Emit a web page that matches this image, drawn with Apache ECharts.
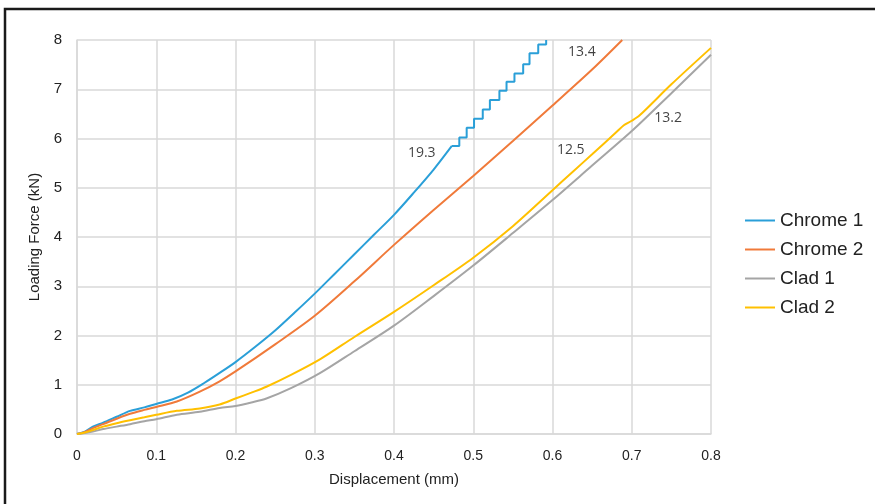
<!DOCTYPE html>
<html>
<head>
<meta charset="utf-8">
<script src="https://cdn.jsdelivr.net/npm/echarts@6/dist/echarts.min.js"></script>
<style>
  html, body { margin: 0; padding: 0; background: #fff; }
  #chart { width: 875px; height: 504px; }
</style>
</head>
<body>
<div id="chart"></div>
<script>
// Chrome 1 smooth part, then the stepped part near the top
const chrome1X = [0, 0.01, 0.02, 0.033, 0.05, 0.067, 0.085, 0.1, 0.12, 0.14, 0.16, 0.18, 0.2, 0.225, 0.25, 0.275, 0.3, 0.325, 0.35, 0.375, 0.4, 0.425, 0.45, 0.473]
const chrome1Y = [0, 0.05, 0.15, 0.23, 0.35, 0.47, 0.54, 0.61, 0.7, 0.84, 1.03, 1.24, 1.46, 1.77, 2.1, 2.47, 2.85, 3.25, 3.65, 4.05, 4.45, 4.9, 5.37, 5.85]
const stepRisers = [0.4824, 0.4917, 0.501, 0.512, 0.521, 0.533, 0.542, 0.552, 0.563, 0.571, 0.582, 0.592]
const stepLevels = [5.85, 6.02, 6.22, 6.40, 6.59, 6.78, 6.97, 7.15, 7.32, 7.51, 7.73, 7.91, 8.0]

const chrome2X = [0, 0.01, 0.02, 0.033, 0.05, 0.067, 0.085, 0.1, 0.126, 0.155, 0.18, 0.2, 0.25, 0.3, 0.35, 0.4, 0.45, 0.5, 0.55, 0.6, 0.65, 0.688]
const chrome2Y = [0, 0.04, 0.12, 0.2, 0.31, 0.41, 0.49, 0.55, 0.66, 0.86, 1.07, 1.27, 1.82, 2.4, 3.1, 3.84, 4.55, 5.24, 5.95, 6.67, 7.4, 8.0]

const clad1X = [0, 0.01, 0.02, 0.033, 0.05, 0.067, 0.085, 0.1, 0.126, 0.155, 0.18, 0.2, 0.22, 0.239, 0.27, 0.307, 0.35, 0.4, 0.45, 0.5, 0.55, 0.6, 0.65, 0.7, 0.75, 0.8]
const clad1Y = [0, 0.02, 0.05, 0.1, 0.15, 0.2, 0.26, 0.3, 0.39, 0.45, 0.53, 0.57, 0.64, 0.72, 0.93, 1.24, 1.68, 2.2, 2.8, 3.42, 4.08, 4.75, 5.45, 6.15, 6.92, 7.7]

const clad2X = [0, 0.01, 0.02, 0.033, 0.05, 0.067, 0.085, 0.1, 0.126, 0.155, 0.18, 0.2, 0.22, 0.239, 0.27, 0.307, 0.35, 0.4, 0.45, 0.5, 0.55, 0.6, 0.626, 0.65, 0.68, 0.69, 0.7, 0.71, 0.75, 0.8]
const clad2Y = [0, 0.03, 0.08, 0.15, 0.22, 0.28, 0.34, 0.39, 0.47, 0.52, 0.6, 0.72, 0.84, 0.96, 1.2, 1.52, 1.97, 2.48, 3.02, 3.58, 4.22, 4.95, 5.33, 5.68, 6.12, 6.27, 6.36, 6.47, 7.1, 7.84]

// slope annotations
const noteX = [0.435, 0.637, 0.623, 0.746]
const noteY = [5.71, 7.76, 5.77, 6.42]
const noteText = ['19.3', '13.4', '12.5', '13.2']

const seriesNames = ['Chrome 1', 'Chrome 2', 'Clad 1', 'Clad 2']
const colors = ['#2a9fd8', '#f07a3a', '#a5a5a5', '#ffc000']

const zip = (xs, ys) => xs.map((x, i) => [x, ys[i]])

// 台阶部分
const stepPoints = [[chrome1X[chrome1X.length - 1], stepLevels[0]]]
stepRisers.forEach((x, i) => {
  stepPoints.push([x, stepLevels[i]])
  stepPoints.push([x, stepLevels[i + 1]])
})

const lineSeries = (name, data, color, smooth) => ({
  name,
  type: 'line',
  data,
  showSymbol: false,
  symbol: 'none',
  smooth,
  lineStyle: { color, width: 2 },
  itemStyle: { color },
  animation: false
})

const chart = echarts.init(document.getElementById('chart'))

const axisText = { color: '#222', fontFamily: 'Liberation Sans', fontSize: 14 }

chart.setOption({
  animation: false,
  grid: { left: 77, right: 164, top: 40, bottom: 70 },
  graphic: [{
    type: 'rect',
    shape: { x: 5, y: 9, width: 900, height: 520 },
    style: { fill: 'none', stroke: '#1a1a1a', lineWidth: 2.5 },
    silent: true
  }],
  legend: {
    data: seriesNames,
    orient: 'vertical',
    left: 740,
    top: 206,
    itemWidth: 30,
    itemHeight: 2,
    itemGap: 10,
    icon: 'rect',
    textStyle: { color: '#222', fontFamily: 'Liberation Sans', fontSize: 19 }
  },
  xAxis: {
    type: 'value',
    min: 0,
    max: 0.8,
    interval: 0.1,
    name: 'Displacement (mm)',
    nameLocation: 'middle',
    nameGap: 38,
    nameTextStyle: { ...axisText, fontSize: 15 },
    axisLine: { show: true, lineStyle: { color: '#d9d9d9', width: 1.5 } },
    axisTick: { show: false },
    axisLabel: { ...axisText, margin: 15, formatter: v => (v === 0 ? '0' : v.toFixed(1)) },
    splitLine: { show: true, lineStyle: { color: '#d9d9d9', width: 1.5 } }
  },
  yAxis: {
    type: 'value',
    min: 0,
    max: 8,
    interval: 1,
    name: 'Loading Force (kN)',
    nameLocation: 'middle',
    nameGap: 30,
    nameTextStyle: { ...axisText, fontSize: 15 },
    axisLine: { show: true, lineStyle: { color: '#d9d9d9', width: 1.5 } },
    axisTick: { show: false },
    axisLabel: { ...axisText, fontSize: 15, margin: 15 },
    splitLine: { show: true, lineStyle: { color: '#d9d9d9', width: 1.5 } }
  },
  series: [
    lineSeries('Chrome 1', zip(chrome1X, chrome1Y), colors[0], 0.3),
    lineSeries('Chrome 1', stepPoints, colors[0], false),
    lineSeries('Chrome 2', zip(chrome2X, chrome2Y), colors[1], 0.3),
    lineSeries('Clad 1', zip(clad1X, clad1Y), colors[2], 0.3),
    lineSeries('Clad 2', zip(clad2X, clad2Y), colors[3], 0.3),
    {
      name: 'notes',
      type: 'scatter',
      symbolSize: 0,
      data: noteX.map((x, i) => ({ value: [x, noteY[i]], label: { formatter: noteText[i] } })),
      label: {
        show: true,
        position: 'inside',
        color: '#111',
        fontFamily: 'Open Sans',
        fontSize: 14
      },
      silent: true,
      animation: false
    }
  ]
})
</script>
</body>
</html>
